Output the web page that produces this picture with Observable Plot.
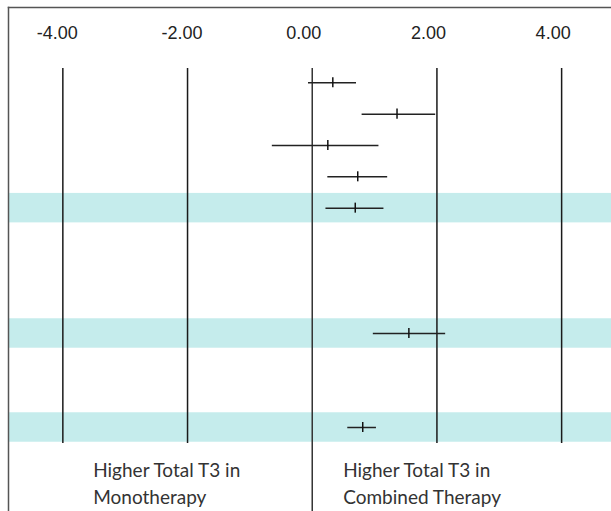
<!DOCTYPE html>
<html>
<head>
<meta charset="utf-8">
<script src="https://cdn.jsdelivr.net/npm/d3@7"></script>
<script src="https://cdn.jsdelivr.net/npm/@observablehq/plot@0.6"></script>
<style>
  html, body { margin: 0; padding: 0; background: #fff; }
  #chart svg { display: block; }
</style>
</head>
<body>
<div id="chart"></div>
<script>
// ---- data ----
const rowIndex  = [1, 2, 3, 4, 5, 9, 12];
const estimate  = [0.33, 1.36, 0.25, 0.73, 0.69, 1.55, 0.81];
const lower     = [-0.06, 0.80, -0.64, 0.25, 0.22, 0.98, 0.57];
const upper     = [0.71, 1.98, 1.07, 1.21, 1.15, 2.14, 1.03];
const highlightRows = [5, 9, 12];
const tickValues = [-4, -2, 0, 2, 4];
const tickLabels = ["-4.00", "-2.00", "0.00", "2.00", "4.00"];
const sideLabels = ["Higher Total T3 in\nMonotherapy", "Higher Total T3 in\nCombined Therapy"];

const rows = rowIndex.map((r, i) => ({row: r, est: estimate[i], lo: lower[i], hi: upper[i]}));

const W = 611, H = 511;
const xDomain = [-5, 4.8];
const yFromPx = px => 1 + (px - 82.3) / ((427 - 82.3) / 11);
const xFromPx = px => xDomain[0] + px / (W / (xDomain[1] - xDomain[0]));

const lineColor = "#1a1a1a";

const chart = Plot.plot({
  width: W,
  height: H,
  marginTop: 7,
  marginLeft: 8,
  marginRight: 0,
  marginBottom: 0,
  x: {domain: xDomain, range: [0, W]},
  y: {domain: [1, 12], range: [82.3, 427], axis: null},
  marks: [
    // highlight bands
    Plot.rectY(highlightRows, {
      x1: xFromPx(8), x2: xDomain[1],
      y1: d => d - 0.47, y2: d => d + 0.47,
      fill: "#c5ecec"
    }),
    // vertical reference lines
    Plot.ruleX(tickValues.filter(d => d !== 0), {
      y1: yFromPx(68), y2: yFromPx(443), stroke: lineColor, strokeWidth: 1.5
    }),
    Plot.ruleX([0], {
      y1: yFromPx(68), y2: yFromPx(H), stroke: "#333", strokeWidth: 1.5
    }),
    // confidence intervals
    Plot.ruleY(rows, {y: "row", x1: "lo", x2: "hi", stroke: "#222", strokeWidth: 1.5}),
    // point estimates
    Plot.ruleX(rows, {x: "est", y1: d => d.row - 0.16, y2: d => d.row + 0.16, stroke: "#111", strokeWidth: 1.5}),
    // frame lines (top & left)
    Plot.frame({anchor: "top", stroke: "#555", strokeWidth: 1.5}),
    Plot.frame({anchor: "left", stroke: "#555", strokeWidth: 1.5}),
    // axis labels on top
    Plot.axisX({
      anchor: "top",
      ticks: tickValues,
      tickFormat: (d) => tickLabels[tickValues.indexOf(d)],
      tickSize: 0,
      tickPadding: -31,
      textAnchor: "start",
      dx: -26,
      fontSize: 18,
      fontFamily: "Liberation Sans, Arial, sans-serif",
      fill: "#222",
      label: null
    }),
    // direction labels
    Plot.text(sideLabels, {
      x: (d, i) => i === 0 ? xFromPx(92.7) : xFromPx(342.7),
      y: yFromPx(457),
      text: d => d,
      textAnchor: "start",
      lineAnchor: "top",
      lineHeight: 1.43,
      fontSize: 19,
      fontFamily: "Lato, sans-serif",
      fill: "#333"
    })
  ]
});

document.getElementById("chart").appendChild(chart);
</script>
</body>
</html>
